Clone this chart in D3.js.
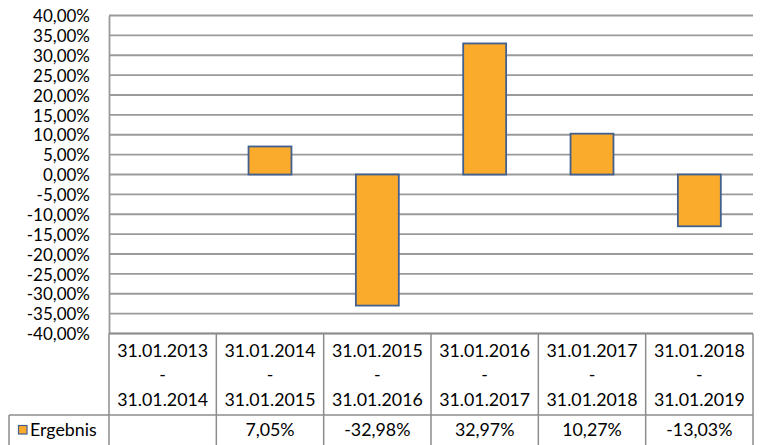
<!DOCTYPE html>
<html>
<head>
<meta charset="utf-8">
<script src="https://cdn.jsdelivr.net/npm/d3@7"></script>
<style>
  html, body { margin: 0; padding: 0; background: #fff; }
  svg { display: block; }
  text { font-family: Lato, "Open Sans", sans-serif; font-size: 17.8px; fill: #000; }
</style>
</head>
<body>
<svg id="chart" width="760" height="445"></svg>
<script>
// Yearly periods (start / end) and the result for each period
const periodStart = ["31.01.2013", "31.01.2014", "31.01.2015", "31.01.2016", "31.01.2017", "31.01.2018"];
const periodEnd   = ["31.01.2014", "31.01.2015", "31.01.2016", "31.01.2017", "31.01.2018", "31.01.2019"];
const ergebnis    = [null, 7.05, -32.98, 32.97, 10.27, -13.03];
const yTicks      = [40, 35, 30, 25, 20, 15, 10, 5, 0, -5, -10, -15, -20, -25, -30, -35, -40];
const seriesName  = "Ergebnis";

const fmtPct = v => v.toFixed(2).replace(".", ",") + "%";

const svg = d3.select("#chart");
const plot = { left: 109, right: 753, top: 15.5, bottom: 333.5 };
const table = { rowSplit: 415, bottom: 446, legendLeft: 9 };
const tickFontSize = "17px";

const cats = periodStart.map((d, i) => i);

const y = d3.scaleLinear().domain([-40, 40]).range([plot.bottom, plot.top]);
const xCell = d3.scaleBand().domain(cats).range([plot.left, plot.right]).padding(0);
const xBar = d3.scaleBand().domain(cats).range([plot.left, plot.right])
  .paddingInner(0.6).paddingOuter(0.3);

const gridColor = "#9a9a9a";

// Horizontal gridlines
svg.append("g")
  .selectAll("line")
  .data(yTicks)
  .join("line")
  .attr("x1", plot.left).attr("x2", plot.right)
  .attr("y1", d => y(d)).attr("y2", d => y(d))
  .attr("stroke", gridColor).attr("stroke-width", 1.8);

// Value axis
const yAxis = d3.axisLeft(y).tickValues(yTicks).tickSize(0).tickPadding(19)
  .tickFormat(fmtPct);
const gy = svg.append("g").attr("transform", `translate(${plot.left},0)`).call(yAxis);
gy.select(".domain").attr("stroke", gridColor).attr("stroke-width", 1.8);
gy.selectAll("text")
  .style("font-family", "Lato, 'Open Sans', sans-serif")
  .style("font-size", tickFontSize)
  .attr("fill", "#000")
  .attr("dy", "0.36em");

// Bars
const barData = ergebnis.map((v, i) => ({ i, v })).filter(d => d.v !== null);
svg.append("g")
  .selectAll("rect")
  .data(barData)
  .join("rect")
  .attr("x", d => xBar(d.i))
  .attr("width", xBar.bandwidth())
  .attr("y", d => y(Math.max(0, d.v)))
  .attr("height", d => Math.abs(y(d.v) - y(0)))
  .attr("fill", "#fbab2b")
  .attr("stroke", "#41608f")
  .attr("stroke-width", 1.8);

// Data table below the plot
const tg = svg.append("g");
const tableColor = "#8c8c8c";

// top edge of the table / bottom of plot
tg.append("line")
  .attr("x1", plot.left).attr("x2", plot.right)
  .attr("y1", plot.bottom).attr("y2", plot.bottom)
  .attr("stroke", tableColor).attr("stroke-width", 1.5);
// row separator
tg.append("line")
  .attr("x1", table.legendLeft).attr("x2", plot.right)
  .attr("y1", table.rowSplit).attr("y2", table.rowSplit)
  .attr("stroke", tableColor).attr("stroke-width", 1.5);
// column separators
const colEdges = cats.map(i => xCell(i)).concat([plot.right]);
tg.selectAll("line.col")
  .data(colEdges)
  .join("line")
  .attr("class", "col")
  .attr("x1", d => d).attr("x2", d => d)
  .attr("y1", plot.bottom).attr("y2", table.bottom)
  .attr("stroke", tableColor).attr("stroke-width", 1.5);
// left edge of the legend cell
tg.append("line")
  .attr("x1", table.legendLeft).attr("x2", table.legendLeft)
  .attr("y1", table.rowSplit).attr("y2", table.bottom)
  .attr("stroke", tableColor).attr("stroke-width", 1.5);

// Period labels
const labelG = tg.append("g").attr("text-anchor", "middle");
cats.forEach(i => {
  const cx = xCell(i) + xCell.bandwidth() / 2;
  labelG.append("text").attr("x", cx).attr("y", 357).text(periodStart[i]);
  labelG.append("text").attr("x", cx).attr("y", 381).text("-");
  labelG.append("text").attr("x", cx).attr("y", 406).text(periodEnd[i]);
});

// Value row
tg.append("g").attr("text-anchor", "middle")
  .selectAll("text")
  .data(barData)
  .join("text")
  .attr("x", d => xCell(d.i) + xCell.bandwidth() / 2)
  .attr("y", 436)
  .text(d => fmtPct(d.v));

// Legend key
tg.append("rect")
  .attr("x", 18.5).attr("y", 425.5).attr("width", 8.5).attr("height", 8.5)
  .attr("fill", "#fbab2b").attr("stroke", "#41608f").attr("stroke-width", 1.2);
tg.append("text").attr("x", 30).attr("y", 436).text(seriesName);
</script>
</body>
</html>
